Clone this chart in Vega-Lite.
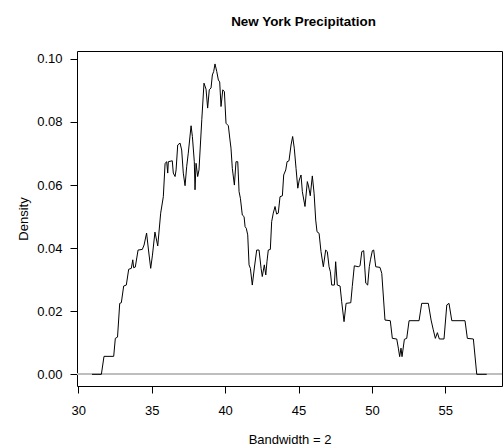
{
  "$schema": "https://vega.github.io/schema/vega-lite/v6.json",
  "width": 425,
  "height": 335,
  "autosize": {"type": "none"},
  "padding": {"left": 77, "top": 51, "right": 1, "bottom": 60},
  "background": "white",
  "config": {"view": {"stroke": "black", "strokeWidth": 1}, "font": "Liberation Sans"},
  "title": {"text": "New York Precipitation", "fontSize": 13.4, "fontWeight": "bold", "font": "Liberation Sans", "anchor": "middle", "baseline": "alphabetic", "offset": 12, "dx": 14, "color": "black"},
  "data": {"values": [
    {"x": 30.93, "d": 0}, {"x": 31.57, "d": 0}, {"x": 31.75, "d": 0.0057}, {"x": 32.41, "d": 0.0057},
    {"x": 32.52, "d": 0.0114}, {"x": 32.67, "d": 0.0118}, {"x": 32.82, "d": 0.0225}, {"x": 32.93, "d": 0.0227},
    {"x": 33.09, "d": 0.0280}, {"x": 33.27, "d": 0.0283}, {"x": 33.43, "d": 0.0333}, {"x": 33.61, "d": 0.0336},
    {"x": 33.71, "d": 0.0363}, {"x": 33.77, "d": 0.0338}, {"x": 33.88, "d": 0.0340}, {"x": 34.07, "d": 0.0394},
    {"x": 34.36, "d": 0.0396}, {"x": 34.48, "d": 0.0410}, {"x": 34.65, "d": 0.0448}, {"x": 34.78, "d": 0.0394},
    {"x": 34.93, "d": 0.0336}, {"x": 35.05, "d": 0.0378}, {"x": 35.22, "d": 0.0451}, {"x": 35.41, "d": 0.0407},
    {"x": 35.61, "d": 0.0511}, {"x": 35.79, "d": 0.0563}, {"x": 35.91, "d": 0.0669}, {"x": 36.02, "d": 0.0674},
    {"x": 36.09, "d": 0.0638}, {"x": 36.13, "d": 0.0674}, {"x": 36.40, "d": 0.0677}, {"x": 36.47, "d": 0.0638},
    {"x": 36.59, "d": 0.0627}, {"x": 36.66, "d": 0.0648}, {"x": 36.77, "d": 0.0727}, {"x": 36.93, "d": 0.0733},
    {"x": 37.04, "d": 0.0711}, {"x": 37.15, "d": 0.0638}, {"x": 37.27, "d": 0.0598}, {"x": 37.38, "d": 0.0658},
    {"x": 37.49, "d": 0.0701}, {"x": 37.68, "d": 0.0788}, {"x": 37.77, "d": 0.0754}, {"x": 37.90, "d": 0.0674},
    {"x": 37.95, "d": 0.0585}, {"x": 38.02, "d": 0.0669}, {"x": 38.13, "d": 0.0627}, {"x": 38.22, "d": 0.0648},
    {"x": 38.41, "d": 0.0807}, {"x": 38.56, "d": 0.0923}, {"x": 38.70, "d": 0.0904}, {"x": 38.81, "d": 0.0844},
    {"x": 38.92, "d": 0.0902}, {"x": 39.04, "d": 0.0908}, {"x": 39.13, "d": 0.0949}, {"x": 39.22, "d": 0.0960},
    {"x": 39.31, "d": 0.0984}, {"x": 39.43, "d": 0.0960}, {"x": 39.54, "d": 0.0933}, {"x": 39.63, "d": 0.0927},
    {"x": 39.72, "d": 0.0849}, {"x": 39.84, "d": 0.0902}, {"x": 39.95, "d": 0.0896}, {"x": 40.06, "d": 0.0796},
    {"x": 40.22, "d": 0.0788}, {"x": 40.33, "d": 0.0743}, {"x": 40.40, "d": 0.0717}, {"x": 40.49, "d": 0.0653},
    {"x": 40.63, "d": 0.0600}, {"x": 40.74, "d": 0.0674}, {"x": 40.86, "d": 0.0674}, {"x": 40.95, "d": 0.0579},
    {"x": 41.04, "d": 0.0558}, {"x": 41.17, "d": 0.0505}, {"x": 41.29, "d": 0.0500}, {"x": 41.36, "d": 0.0468},
    {"x": 41.44, "d": 0.0463}, {"x": 41.54, "d": 0.0442}, {"x": 41.63, "d": 0.0347}, {"x": 41.72, "d": 0.0336},
    {"x": 41.85, "d": 0.0283}, {"x": 41.99, "d": 0.0337}, {"x": 42.15, "d": 0.0394}, {"x": 42.31, "d": 0.0394},
    {"x": 42.45, "d": 0.0336}, {"x": 42.53, "d": 0.0310}, {"x": 42.67, "d": 0.0347}, {"x": 42.77, "d": 0.0315},
    {"x": 42.85, "d": 0.0357}, {"x": 42.94, "d": 0.0394}, {"x": 43.08, "d": 0.0396}, {"x": 43.17, "d": 0.0484},
    {"x": 43.28, "d": 0.0511}, {"x": 43.40, "d": 0.0532}, {"x": 43.51, "d": 0.0508}, {"x": 43.62, "d": 0.0511},
    {"x": 43.74, "d": 0.0563}, {"x": 43.90, "d": 0.0566}, {"x": 43.99, "d": 0.0632}, {"x": 44.13, "d": 0.0648},
    {"x": 44.22, "d": 0.0674}, {"x": 44.35, "d": 0.0677}, {"x": 44.49, "d": 0.0727}, {"x": 44.60, "d": 0.0754},
    {"x": 44.71, "d": 0.0717}, {"x": 44.83, "d": 0.0653}, {"x": 44.95, "d": 0.0590}, {"x": 45.05, "d": 0.0616},
    {"x": 45.17, "d": 0.0632}, {"x": 45.26, "d": 0.0579}, {"x": 45.44, "d": 0.0532}, {"x": 45.60, "d": 0.0611},
    {"x": 45.68, "d": 0.0597}, {"x": 45.80, "d": 0.0566}, {"x": 45.94, "d": 0.0629}, {"x": 46.06, "d": 0.0574},
    {"x": 46.17, "d": 0.0489}, {"x": 46.26, "d": 0.0452}, {"x": 46.40, "d": 0.0447}, {"x": 46.53, "d": 0.0389},
    {"x": 46.69, "d": 0.0341}, {"x": 46.85, "d": 0.0394}, {"x": 46.96, "d": 0.0389}, {"x": 47.08, "d": 0.0341},
    {"x": 47.17, "d": 0.0325}, {"x": 47.26, "d": 0.0283}, {"x": 47.44, "d": 0.0283}, {"x": 47.53, "d": 0.0357},
    {"x": 47.64, "d": 0.0283}, {"x": 47.83, "d": 0.0280}, {"x": 47.94, "d": 0.0230}, {"x": 48.10, "d": 0.0167},
    {"x": 48.24, "d": 0.0225}, {"x": 48.56, "d": 0.0227}, {"x": 48.66, "d": 0.0278}, {"x": 48.80, "d": 0.0344},
    {"x": 49.07, "d": 0.0341}, {"x": 49.19, "d": 0.0344}, {"x": 49.31, "d": 0.0389}, {"x": 49.44, "d": 0.0392},
    {"x": 49.58, "d": 0.0289}, {"x": 49.71, "d": 0.0283}, {"x": 49.82, "d": 0.0341}, {"x": 49.90, "d": 0.0363},
    {"x": 50.03, "d": 0.0392}, {"x": 50.12, "d": 0.0394}, {"x": 50.26, "d": 0.0341}, {"x": 50.55, "d": 0.0339},
    {"x": 50.67, "d": 0.0320}, {"x": 50.89, "d": 0.0172}, {"x": 51.25, "d": 0.0170}, {"x": 51.39, "d": 0.0114},
    {"x": 51.69, "d": 0.0112}, {"x": 51.80, "d": 0.0083}, {"x": 51.89, "d": 0.0056}, {"x": 51.98, "d": 0.0083},
    {"x": 52.05, "d": 0.0056}, {"x": 52.21, "d": 0.0111}, {"x": 52.37, "d": 0.0114}, {"x": 52.53, "d": 0.0170},
    {"x": 53.21, "d": 0.0170}, {"x": 53.39, "d": 0.0225}, {"x": 53.84, "d": 0.0225}, {"x": 54.03, "d": 0.0172},
    {"x": 54.18, "d": 0.0141}, {"x": 54.32, "d": 0.0114}, {"x": 54.46, "d": 0.0132}, {"x": 54.59, "d": 0.0112},
    {"x": 54.91, "d": 0.0112}, {"x": 55.10, "d": 0.0220}, {"x": 55.25, "d": 0.0225}, {"x": 55.44, "d": 0.0170},
    {"x": 56.34, "d": 0.0170}, {"x": 56.50, "d": 0.0114}, {"x": 56.91, "d": 0.0112}, {"x": 57.14, "d": 0},
    {"x": 57.82, "d": 0}
  ]},
  "layer": [
    {
      "mark": {"type": "rule", "color": "#bebebe", "strokeWidth": 1},
      "encoding": {
        "y": {"datum": 0, "type": "quantitative", "title": "Density", "scale": {"domain": [-0.0037, 0.1025], "nice": false, "zero": false}}
      }
    },
    {
      "mark": {"type": "line", "color": "black", "strokeWidth": 1},
      "encoding": {
        "x": {"field": "x", "type": "quantitative",
          "scale": {"domain": [29.91, 58.86], "nice": false, "zero": false},
          "axis": {"values": [30, 35, 40, 45, 50, 55], "domain": false, "grid": false, "tickSize": 7, "tickColor": "black",
            "labelFontSize": 13, "labelColor": "black", "labelPadding": 11, "labelFlush": false, "labelBound": false, "labelFont": "Liberation Sans",
            "title": "Bandwidth = 2", "titleFontSize": 13, "titleFontWeight": "normal", "titleColor": "black", "titleFont": "Liberation Sans",
            "titleX": 212.5, "titleY": 57, "titleBaseline": "alphabetic", "titleAlign": "center"}},
        "y": {"field": "d", "type": "quantitative", "title": "Density",
          "scale": {"domain": [-0.0037, 0.1025], "nice": false, "zero": false},
          "axis": {"values": [0, 0.02, 0.04, 0.06, 0.08, 0.1], "format": ".2f", "domain": false, "grid": false, "tickSize": 7, "tickColor": "black",
            "labelFontSize": 13, "labelColor": "black", "labelPadding": 8, "labelFlush": false, "labelBound": false, "labelFont": "Liberation Sans",
            "titleFontSize": 13, "titleFontWeight": "normal", "titleColor": "black", "titleFont": "Liberation Sans",
            "titleX": -50, "titleY": 167.5, "titleAngle": -90, "titleBaseline": "alphabetic", "titleAlign": "center"}}
      }
    }
  ]
}
